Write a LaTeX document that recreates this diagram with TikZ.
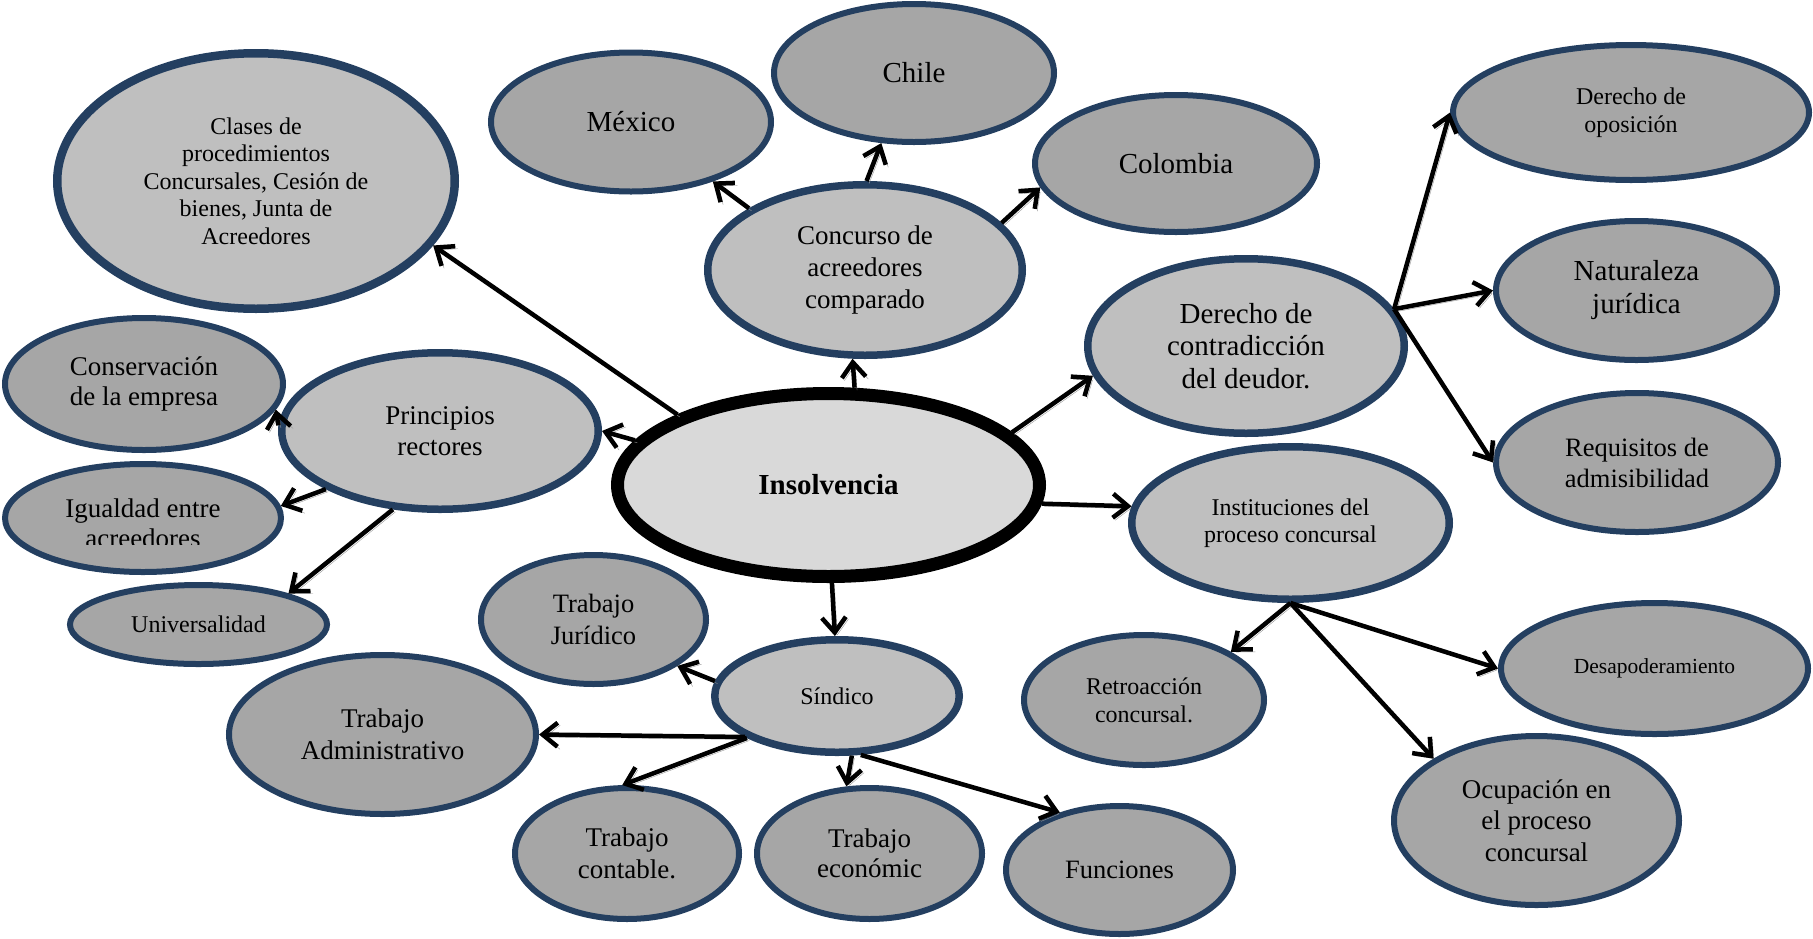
\documentclass[tikz,border=0pt]{standalone}
\usepackage{fontspec}
\setmainfont{Liberation Serif}
\usetikzlibrary{shapes.geometric,arrows.meta}
\definecolor{navy}{RGB}{36,63,96}
\definecolor{lfill}{RGB}{191,191,191}
\definecolor{dfill}{RGB}{166,166,166}
\definecolor{cfill}{RGB}{217,217,217}
\definecolor{shade}{RGB}{150,150,150}
\newcommand\fsz[2]{\fontsize{#1}{#2}\selectfont}
\begin{document}
\begin{tikzpicture}[x=1pt,y=-1pt,
  lt/.style={ellipse, draw=navy, line width=7.5pt, fill=lfill, inner sep=0pt, align=center},
  dk/.style={ellipse, draw=navy, line width=6pt, fill=dfill, inner sep=0pt, align=center},
  sz/.style 2 args={minimum width=#1pt, minimum height=#2pt},
  arr/.style={line width=4.5pt, -{Straight Barb[length=15pt,width=24pt]},
    preaction={draw=shade, transform canvas={xshift=2.5pt,yshift=-2.5pt}}}]
\useasboundingbox (0,0) rectangle (1813,938);

% nodes
\node[lt, line width=8.5pt, sz={397.5}{255.5}, font=\fsz{24}{27.5}] (clases) at (256,181)
  {Clases de\\procedimientos\\Concursales, Cesión de\\bienes, Junta de\\Acreedores};
\node[dk, sz={280}{139}, font=\fsz{29}{33}] (mexico) at (631,122) {México};
\node[dk, sz={280}{138}, font=\fsz{29}{33}] (chile) at (914,73) {Chile};
\node[dk, sz={282}{137}, font=\fsz{29}{33}] (colombia) at (1176,163.5) {Colombia};
\node[lt, sz={314.5}{170.5}, font=\fsz{27}{31.5}] (concurso) at (865,270)
  {Concurso de\\acreedores\\comparado};
\node[lt, sz={316.5}{174.5}, font=\fsz{29}{32.5}] (contrad) at (1246,346)
  {Derecho de\\contradicción\\del deudor.};
\node[dk, sz={356}{135}, font=\fsz{24}{28}] (oposicion) at (1631,112.5)
  {Derecho de\\oposición};
\node[dk, sz={281}{139}, font=\fsz{29}{33}] (naturaleza) at (1636.5,290.5)
  {Naturaleza\\jurídica};
\node[dk, sz={282}{139}, font=\fsz{26.5}{31}] (requisitos) at (1637,462.5)
  {Requisitos de\\admisibilidad};
\node[dk, sz={278}{132}, font=\fsz{27}{30}] (conserv) at (144,384)
  {Conservación\\de la empresa};
\node[lt, sz={316.5}{156.5}, font=\fsz{27}{31}] (principios) at (440,431)
  {Principios\\rectores};
\node[dk, sz={276}{108}] (igualdad) at (143,518) {};
\begin{scope}
  \clip (0,440) rectangle (300,544);
  \node[align=center, inner sep=0pt, font=\fsz{27}{30}] (igualdadtxt) at (143,523)
    {Igualdad entre\\acreedores};
\end{scope}
\node[dk, sz={257}{79}, font=\fsz{24}{28}] (universal) at (198.5,624.5) {Universalidad};
\node[ellipse, draw=black, line width=13pt, fill=cfill, inner sep=0pt,
  sz={422}{183}, font=\fsz{29}{33}\bfseries] (insolv) at (828.5,485) {Insolvencia};
\node[lt, sz={317.5}{152.5}, font=\fsz{24}{27}] (instit) at (1290.5,523)
  {Instituciones del\\proceso concursal};
\node[dk, sz={225}{129}, font=\fsz{26.5}{32}] (juridico) at (593.5,619.5)
  {Trabajo\\Jurídico};
\node[lt, sz={244.5}{112.5}, font=\fsz{24}{28}] (sindico) at (837,696) {Síndico};
\node[dk, sz={307}{159}, font=\fsz{27}{32}] (admin) at (382.5,734.5)
  {Trabajo\\Administrativo};
\node[dk, sz={224}{131}, font=\fsz{27}{32}] (contable) at (627,853.5)
  {Trabajo\\contable.};
\node[dk, sz={225}{131}, font=\fsz{27}{30}] (economic) at (869.5,853.5)
  {Trabajo\\económic};
\node[dk, sz={227}{128}, font=\fsz{26.5}{31}] (funciones) at (1119.5,870) {Funciones};
\node[dk, sz={240}{130}, font=\fsz{24}{28}] (retro) at (1144,700)
  {Retroacción\\concursal.};
\node[dk, sz={307}{131}, font=\fsz{21.5}{26}] (desapod) at (1654.5,668.5)
  {Desapoderamiento};
\node[dk, sz={285}{169}, font=\fsz{27}{31.5}] (ocupacion) at (1536.5,820.5)
  {Ocupación en\\el proceso\\concursal};

% connectors
\draw[arr] (insolv.155.2) -- (clases.-20.3);
\draw[arr] (insolv.167.4) -- (principios.0);
\draw[arr] (principios.178.6) -- (conserv.-11.5);
\draw[arr] (principios.-153.6) -- (igualdad.5.7);
\draw[arr] (principios.-121.3) -- (universal.19.5);
\draw[arr] (insolv.75.3) -- (concurso.-98.3);
\draw[arr] (concurso.152) -- (mexico.-36);
\draw[arr] (concurso.89.3) -- (chile.-115);
\draw[arr] (concurso.19.8) -- (colombia.-170.2);
\draw[arr] (insolv.16.8) -- (contrad.-169.5);
\draw[arr] (insolv.-5.4) -- (instit.174.3);
\draw[arr] (contrad.14.5) -- (oposicion.180);
\draw[arr] (contrad.14.5) -- (naturaleza.180);
\draw[arr] (contrad.14.5) -- (requisitos.180);
\draw[arr] (insolv.-88) -- (sindico.92.7);
\draw[arr] (sindico.173.6) -- (juridico.-29.6);
\draw[arr] (sindico.-156.3) -- (admin.0);
\draw[arr] (sindico.-155) -- (contable.94.5);
\draw[arr] (sindico.-76.5) -- (economic.109.5);
\draw[arr] (sindico.-68.7) -- (funciones.136.3);
\draw[arr] (instit.-90) -- (retro.29.6);
\draw[arr] (instit.-90) -- (desapod.180);
\draw[arr] (instit.-90) -- (ocupacion.149.2);
\end{tikzpicture}
\end{document}
